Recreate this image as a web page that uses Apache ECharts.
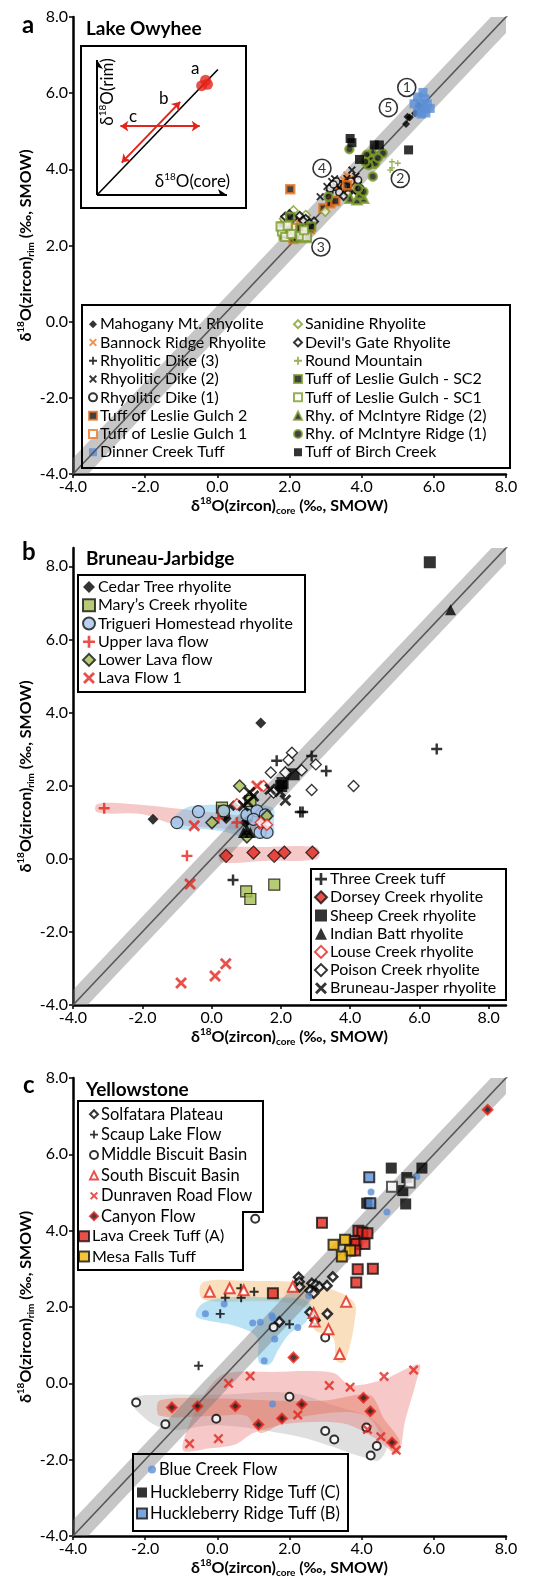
<!DOCTYPE html>
<html>
<head>
<meta charset="utf-8">
<script src="https://cdn.jsdelivr.net/npm/echarts@6/dist/echarts.min.js"></script>
<style>
  body { margin: 0; background: #fff; }
  #chart { width: 554px; height: 1580px; }
</style>
</head>
<body>
<div id="chart"></div>
<script>
// ---------- tick values ----------
const ticksAll = [-4, -2, 0, 2, 4, 6, 8];

// ---------- a: Lake Owyhee ----------
const mahoganyMt = [[5.23,5.19],[5.27,5.38],[5.48,5.47],[5.58,5.66],[5.33,5.36]];
const bannockRidge = [[3.59,3.85],[3.5,3.72],[3.68,3.68],[3.42,3.6],[3.64,3.55],[3.78,3.62],[3.55,3.45],[3.3,3.52],[3.72,3.78]];
const dike3 = [[3.35,3.7],[3.58,3.62],[3.88,3.38],[3.76,3.72],[3.2,3.45],[3.48,3.38]];
const dike2 = [[3.73,3.98],[2.85,3.28],[3.17,3.68],[3.31,3.59],[3.59,3.76],[3.91,3.59],[3.77,3.41],[3.04,3.55],[3.4,3.48],[3.84,3.82],[3.25,3.75],[3.5,3.62],[3.65,3.5],[3.1,3.38]];
const dike1 = [[3.13,3.5],[3.3,3.68],[3.52,3.55],[3.7,3.68],[3.96,3.5],[3.62,3.35],[3.9,3.72],[3.38,3.4],[3.22,3.6]];
const leslie2 = [[2.02,3.48],[2.94,2.98],[3.13,3.11],[3.27,3.17],[2.11,2.17],[2.57,2.43],[2.2,2.62],[1.9,2.66],[2.35,2.3],[3.6,3.58]];
const leslie1 = [[1.88,2.6],[2.11,2.6],[2.02,2.41],[2.25,2.36],[1.97,2.28],[2.33,2.52],[2.15,2.46]];
const dinnerCreek = [[5.7,6.02],[5.55,5.9],[5.75,5.85],[5.45,5.72],[5.62,5.7],[5.82,5.72],[5.7,5.6],[5.55,5.5],[5.78,5.48],[5.9,5.6],[5.65,5.45]];
const sanidine = [[2.11,2.92],[2.99,2.89],[1.85,2.7],[2.45,2.8]];
const devilsGate = [[1.88,2.76],[2.1,2.72],[2.28,2.78],[2.45,2.7],[2.68,2.63],[2.0,2.82],[2.38,2.65],[2.55,2.58],[3.5,3.3]];
const roundMountain = [[4.84,4.2],[5.0,4.16],[4.84,4.04],[4.79,3.98]];
const leslieSC2 = [[1.79,2.5],[2.48,2.2],[2.02,2.75],[2.3,2.45],[1.84,2.26],[2.2,2.2],[2.6,2.5],[1.95,2.4]];
const leslieSC1 = [[1.79,2.37],[1.88,2.22],[2.3,2.24],[2.48,2.22],[1.75,2.5],[1.95,2.52],[2.05,2.3],[2.4,2.4]];
const mcintyre2 = [[4.31,4.5],[4.24,4.16],[3.68,3.24],[4.05,3.24],[3.87,3.2],[4.2,4.35],[3.95,3.35]];
const mcintyre1 = [[3.66,4.53],[4.31,3.81],[4.59,4.42],[4.14,4.38],[4.28,4.24],[4.37,4.16],[4.19,4.11],[3.08,3.28],[4.05,3.41],[4.45,4.3],[4.1,4.2],[3.9,3.5]];
const birchCreek = [[3.68,4.81],[3.73,4.70],[3.94,4.26],[4.35,4.64],[4.49,4.64],[5.30,4.51]];
const groupTags = [['1',5.25,6.15],['5',4.74,5.62],['4',2.9,4.03],['2',5.07,3.76],['3',2.87,1.96]];

// inset sketch (arbitrary 0-10 units)
const insetAxisY = [[0,0],[0,10]];
const insetAxisX = [[0,0],[10,0]];
const insetDiag = [[0,0],[9.3,9.3]];
const insetArrowB = [[1.9,2.4],[6.4,6.9]];
const insetArrowC = [[1.8,5.1],[7.9,5.1]];
const insetBlob = [[8.35,8.5],[8.05,8.1],[8.5,8.2]];

// ---------- b: Bruneau-Jarbidge ----------
const cedarTree = [[1.42,3.71],[-1.69,1.08],[0.39,1.17],[0.42,1.1],[0.63,1.45],[0.97,0.99],[1.05,1.05]];
const marysCreek = [[0.3,1.4],[1.12,1.58],[1.81,-0.71],[1.0,-0.89],[1.12,-1.1],[0.35,1.3]];
const trigueri = [[-1.0,0.99],[-0.38,1.29],[1.02,1.2],[1.31,1.31],[1.55,1.2],[1.21,1.08],[1.4,0.72],[1.6,0.72],[0.35,1.31]];
const upperLava = [[-3.1,1.38],[0.2,1.11],[0.73,0.99],[-0.71,0.08]];
const lowerLava = [[0.81,1.99],[0.01,0.99],[1.02,0.6],[1.6,1.17]];
const lavaFlow1 = [[1.31,1.99],[-0.5,0.9],[-0.62,-0.69],[0.41,-2.87],[0.1,-3.21],[-0.88,-3.4],[1.5,0.95]];
const threeCreek = [[6.5,3.0],[2.89,2.81],[1.88,2.68],[3.31,2.4],[2.56,1.28],[2.63,1.28],[0.62,-0.58]];
const dorseyCreek = [[0.42,0.08],[1.21,0.17],[1.81,0.08],[2.1,0.17],[2.91,0.17]];
const sheepCreek = [[6.3,8.11],[2.37,2.31],[2.01,1.99],[2.05,2.07]];
const indianBatt = [[6.9,6.81],[0.92,0.72],[1.12,0.72],[1.02,0.8]];
const louseCreek = [[1.5,1.99],[0.73,1.49],[1.42,0.99],[1.6,0.93]];
const poisonCreek = [[2.32,2.9],[2.22,2.7],[3.01,2.58],[2.6,2.42],[2.13,2.36],[1.71,2.36],[2.89,1.88],[4.1,1.99],[1.79,1.81]];
const bruneauJasper = [[1.69,1.9],[1.1,1.81],[1.21,1.72],[2.13,1.6],[1.98,1.84],[0.92,1.45],[1.05,1.55]];
const fieldTrigueri = [[-1.15,1.0],[-0.9,1.3],[-0.5,1.45],[1.0,1.45],[1.75,1.4],[1.8,1.0],[1.75,0.6],[0.9,0.6],[0.3,0.75],[-0.5,0.82],[-1.0,0.82]];
const fieldUpper = [[-3.3,1.5],[-2,1.47],[-1.1,1.38],[0,1.27],[1.0,1.15],[1.65,1.05],[1.65,0.78],[1.0,0.78],[0,0.85],[-1.1,0.95],[-2,1.22],[-3.3,1.27]];
const fieldDorsey = [[0.25,0.28],[1.5,0.32],[3.0,0.32],[3.12,0.15],[3.0,-0.02],[1.5,-0.06],[0.3,-0.1],[0.2,0.1]];

// ---------- c: Yellowstone ----------
const solfatara = [[2.25,2.78],[2.27,2.66],[2.28,2.53],[2.62,2.62],[2.73,2.58],[2.83,2.53],[3.04,2.56],[3.2,2.79],[2.57,2.43],[2.67,2.36],[2.57,1.86],[3.05,1.82],[2.71,1.65],[1.72,1.61]];
const scaupLake = [[0.22,2.24],[0.65,2.49],[0.66,2.24],[1.02,2.40],[0.08,1.82],[2.0,1.55],[-0.52,0.46]];
const middleBiscuit = [[1.05,4.31],[-2.25,-0.5],[-1.44,-1.07],[-0.03,-0.93],[2.0,-0.35],[2.99,-1.25],[3.24,-1.47],[4.13,-1.16],[4.42,-1.64],[4.25,-1.89],[1.56,1.47],[2.99,1.20]];
const southBiscuit = [[-0.21,2.4],[0.34,2.49],[0.73,2.44],[2.09,2.53],[3.57,2.14],[2.67,1.84],[2.7,1.62],[3.08,1.42],[3.39,0.77]];
const dunraven = [[0.31,0.0],[0.91,0.19],[3.1,-0.06],[3.68,-0.1],[4.62,0.18],[5.44,0.35],[-0.77,-1.58],[0.03,-1.45],[2.23,-0.83],[4.16,-1.21],[4.53,-1.4],[4.96,-1.75]];
const canyonFlow = [[-1.26,-0.63],[-0.55,-0.6],[0.5,-0.6],[1.14,-1.08],[1.79,-0.92],[2.34,-0.55],[2.11,0.68],[4.05,-0.38],[4.24,-0.73],[4.84,-1.55],[7.49,7.17]];
const lavaCreekA = [[2.9,4.21],[3.91,4.0],[4.02,3.95],[4.16,3.93],[3.79,3.73],[3.85,3.65],[4.08,3.65],[3.82,3.48],[3.89,2.99],[4.31,3.0],[3.85,2.64],[1.54,2.36]];
const mesaFalls = [[3.22,3.63],[3.54,3.76],[3.68,3.48],[3.45,3.32]];
const blueCreek = [[4.26,5.01],[4.7,4.49],[5.53,5.42],[2.53,2.29],[0.19,2.08],[-0.33,1.82],[0.98,1.58],[1.19,1.60],[1.51,1.77],[1.54,1.71],[2.23,1.46],[1.59,1.16],[1.3,0.59],[1.53,-0.54]];
const hrtC = [[4.82,5.64],[5.67,5.64],[5.25,5.39],[4.14,4.72],[5.14,5.05],[5.22,4.70]];
const hrtB = [[4.21,5.40],[4.24,4.72]];
const hrtOpen = [[4.84,5.15],[5.33,5.26]];
const fieldSouth = [[-0.4,2.65],[1.0,2.68],[2.2,2.65],[3.2,2.45],[3.8,2.1],[3.8,1.6],[3.65,0.9],[3.5,0.55],[3.3,0.6],[3.2,1.2],[2.7,1.4],[2.55,1.9],[2.0,2.1],[1.0,2.15],[-0.4,2.2]];
const fieldBlue = [[-0.6,1.78],[-0.4,2.1],[0.3,2.25],[1.5,2.25],[2.4,2.2],[2.6,2.0],[2.45,1.6],[2.0,1.3],[1.7,0.9],[1.45,0.5],[1.15,0.55],[1.1,1.2],[0.5,1.5],[-0.3,1.65]];
const fieldDunraven = [[-0.95,-1.75],[-0.7,-0.9],[-0.3,-0.2],[0.2,0.25],[1.5,0.3],[3.2,0.28],[3.7,-0.05],[4.6,0.1],[5.6,0.5],[5.5,0.0],[5.2,-1.0],[5.0,-1.85],[4.4,-1.45],[3.5,-1.05],[2.0,-1.05],[1.0,-1.3],[0.5,-1.6],[-0.2,-1.7]];
const fieldCanyon = [[-1.6,-0.45],[0,-0.4],[1.5,-0.45],[3.0,-0.45],[3.9,-0.3],[4.3,-0.35],[4.6,-0.9],[5.05,-1.5],[4.95,-1.85],[4.7,-1.6],[4.2,-0.9],[3.5,-0.75],[2.0,-0.95],[1.2,-1.3],[0.8,-0.85],[0,-0.85],[-1.6,-0.85]];
const fieldMiddle = [[-2.35,-0.4],[-1.5,-0.3],[0,-0.3],[2.0,-0.25],[3.3,-0.6],[4.3,-0.95],[4.7,-1.5],[4.5,-2.0],[4.1,-1.95],[3.0,-1.6],[2.0,-1.35],[0,-1.1],[-1.4,-1.2],[-2.2,-0.75]];

// 1:1 line and its band
const oneToOne = [[-5,-5],[9,9]];
const BAND = 0.42;

const FONT = 'Lato, "DejaVu Sans", sans-serif';
const RED = '#e3241b', ORANGE = '#ee7623', GREEN = '#7d9d2b', BLUE = '#5b8fd6';
const PLUS = 'path://M-1.1,-5H1.1V-1.1H5V1.1H1.1V5H-1.1V1.1H-5V-1.1H-1.1Z';
const CROSS = 'path://M-4.2,-2.8L-2.8,-4.2L0,-1.4L2.8,-4.2L4.2,-2.8L1.4,0L4.2,2.8L2.8,4.2L0,1.4L-2.8,4.2L-4.2,2.8L-1.4,0Z';

const chart = echarts.init(document.getElementById('chart'));

function filled(c){ return { color: c, borderWidth: 0 }; }
function open(c, w){ return { color: '#fff', borderColor: c, borderWidth: w || 1.5 }; }
function dotted(c, w){ return { color: '#111', borderColor: c, borderWidth: w || 2.5 }; }
function boxed(c, w){ return { color: c, borderColor: '#111', borderWidth: w || 1.2 }; }

function sc(name, data, gi, symbol, size, itemStyle){
  return { name, type: 'scatter', xAxisIndex: gi, yAxisIndex: gi, data, symbol, symbolSize: size,
    itemStyle, z: 5, emphasis: { disabled: true }, silent: true };
}
function poly(gi, pts, fill, z, smooth){
  return { type: 'custom', xAxisIndex: gi, yAxisIndex: gi, clip: true, silent: true, z,
    data: [pts[0]],
    renderItem: (p, api) => ({ type: 'polygon', shape: { points: pts.map(q => api.coord(q)), smooth: smooth || 0 }, style: { fill } }) };
}
function bandSeries(gi){
  const pts = [[oneToOne[0][0]-BAND, oneToOne[0][1]], [oneToOne[1][0]-BAND, oneToOne[1][1]],
               [oneToOne[1][0]+BAND, oneToOne[1][1]], [oneToOne[0][0]+BAND, oneToOne[0][1]]];
  return [poly(gi, pts, 'rgba(120,120,120,0.42)', 3, 0),
    { type: 'line', xAxisIndex: gi, yAxisIndex: gi, data: oneToOne, showSymbol: false, silent: true, z: 4,
      lineStyle: { color: '#555', width: 1.6 } }];
}

const axisName = (sub) => '{b|δ}{sup|18}{b|O(zircon)}{sub|' + sub + '}{b| (‰, SMOW)}';
const nameStyle = {
  fontFamily: FONT, fontWeight: 'bold', fontSize: 16, color: '#000',
  rich: {
    b: { fontFamily: FONT, fontWeight: 'bold', fontSize: 16, lineHeight: 20 },
    sup: { fontFamily: FONT, fontWeight: 'bold', fontSize: 10, lineHeight: 12, verticalAlign: 'top' },
    sub: { fontFamily: FONT, fontWeight: 'bold', fontSize: 10, lineHeight: 12, verticalAlign: 'bottom' }
  }
};
function xAx(gi, max){
  return { gridIndex: gi, type: 'value', min: -4, max, name: axisName('core'), nameLocation: 'middle', nameGap: 22,
    nameTextStyle: nameStyle, nameMoveOverlap: false,
    axisLine: { onZero: false, lineStyle: { color: '#000', width: 2.5 } },
    axisTick: { customValues: ticksAll, length: 4, lineStyle: { color: '#000', width: 1.5 } },
    axisLabel: { customValues: ticksAll, formatter: v => v.toFixed(1), fontFamily: FONT, fontSize: 16, color: '#000', margin: 5 },
    splitLine: { show: false } };
}
function yAx(gi, max){
  return { gridIndex: gi, type: 'value', min: -4, max, name: axisName('rim'), nameLocation: 'middle', nameGap: 37,
    nameRotate: 90, nameTextStyle: nameStyle, nameMoveOverlap: false,
    axisLine: { onZero: false, lineStyle: { color: '#000', width: 2.5 } },
    axisTick: { customValues: ticksAll, length: 4, lineStyle: { color: '#000', width: 1.5 } },
    axisLabel: { customValues: ticksAll, formatter: v => v.toFixed(1), fontFamily: FONT, fontSize: 16, color: '#000', margin: 5 },
    splitLine: { show: false } };
}

function legendBlock(names, left, top, icon, pitch, fs){
  return { data: names, orient: 'vertical', left, top, itemWidth: icon, itemHeight: icon, itemGap: 0, padding: 0,
    selectedMode: false, textStyle: { fontFamily: FONT, fontSize: fs, lineHeight: pitch, color: '#000', padding: [0, 0, 0, -2] } };
}

const series = [
  // panel a
  ...bandSeries(0),
  sc('Mahogany Mt. Rhyolite', mahoganyMt, 0, 'diamond', 8, filled('#000')),
  sc('Bannock Ridge Rhyolite', bannockRidge, 0, CROSS, 8, filled(ORANGE)),
  sc('Rhyolitic Dike (3)', dike3, 0, PLUS, 7, filled('#000')),
  sc('Rhyolitic Dike (2)', dike2, 0, CROSS, 8, filled('#000')),
  sc('Rhyolitic Dike (1)', dike1, 0, 'circle', 7, open('#000', 1.6)),
  sc('Tuff of Leslie Gulch 2', leslie2, 0, 'rect', 8, dotted(ORANGE)),
  sc('Tuff of Leslie Gulch 1', leslie1, 0, 'rect', 8, open(ORANGE, 2)),
  sc('Dinner Creek Tuff', dinnerCreek, 0, 'rect', 9, filled(BLUE)),
  sc('Sanidine Rhyolite', sanidine, 0, 'diamond', 9, open(GREEN, 1.6)),
  sc("Devil's Gate Rhyolite", devilsGate, 0, 'diamond', 8, open('#000', 2)),
  sc('Round Mountain', roundMountain, 0, PLUS, 6, filled(GREEN)),
  sc('Tuff of Leslie Gulch - SC2', leslieSC2, 0, 'rect', 8, dotted(GREEN)),
  sc('Tuff of Leslie Gulch - SC1', leslieSC1, 0, 'rect', 8, open(GREEN, 2)),
  sc('Rhy. of McIntyre Ridge (2)', mcintyre2, 0, 'triangle', 9, dotted(GREEN)),
  sc('Rhy. of McIntyre Ridge (1)', mcintyre1, 0, 'circle', 8, dotted(GREEN)),
  sc('Tuff of Birch Creek', birchCreek, 0, 'rect', 9, filled('#000')),
  { type: 'scatter', xAxisIndex: 0, yAxisIndex: 0, z: 6, silent: true, symbol: 'circle', symbolSize: 18,
    itemStyle: { color: '#fff', borderColor: '#000', borderWidth: 1.6 },
    data: groupTags.map(t => ({ name: t[0], value: [t[1], t[2]] })),
    label: { show: true, position: 'inside', formatter: '{b}', fontFamily: FONT, fontSize: 14, color: '#000' } },

  // inset
  { type: 'lines', coordinateSystem: 'cartesian2d', xAxisIndex: 3, yAxisIndex: 3, silent: true, z: 7,
    symbol: ['none', 'arrow'], symbolSize: 9, lineStyle: { color: '#000', width: 2, opacity: 1 },
    data: [{ coords: insetAxisY }, { coords: insetAxisX }] },
  { type: 'lines', coordinateSystem: 'cartesian2d', xAxisIndex: 3, yAxisIndex: 3, silent: true, z: 7,
    symbol: ['none', 'none'], lineStyle: { color: '#000', width: 1.6, opacity: 1 },
    data: [{ coords: insetDiag }] },
  { type: 'lines', coordinateSystem: 'cartesian2d', xAxisIndex: 3, yAxisIndex: 3, silent: true, z: 7,
    symbol: ['arrow', 'arrow'], symbolSize: 8, lineStyle: { color: RED, width: 2, opacity: 1 },
    data: [{ coords: insetArrowB }, { coords: insetArrowC }] },
  { type: 'scatter', xAxisIndex: 3, yAxisIndex: 3, silent: true, z: 7, symbol: 'circle', symbolSize: 11,
    itemStyle: { color: RED }, data: insetBlob },

  // panel b
  poly(1, fieldUpper, 'rgba(232,120,120,0.4)', 1, 0.4),
  poly(1, fieldTrigueri, 'rgba(110,190,235,0.45)', 1, 0.4),
  poly(1, fieldDorsey, 'rgba(232,120,120,0.4)', 1, 0.4),
  ...bandSeries(1),
  sc('Cedar Tree rhyolite', cedarTree, 1, 'diamond', 11, filled('#000')),
  sc('Mary’s Creek rhyolite', marysCreek, 1, 'rect', 11, boxed('#a5bd51')),
  sc('Trigueri Homestead rhyolite', trigueri, 1, 'circle', 12, boxed('#a8c6ec')),
  sc('Upper lava flow', upperLava, 1, PLUS, 11, filled(RED)),
  sc('Lower Lava flow', lowerLava, 1, 'diamond', 12, boxed('#a5bd51', 1.5)),
  sc('Lava Flow 1', lavaFlow1, 1, CROSS, 12, filled(RED)),
  sc('Three Creek tuff', threeCreek, 1, PLUS, 11, filled('#000')),
  sc('Dorsey Creek rhyolite', dorseyCreek, 1, 'diamond', 13, boxed(RED)),
  sc('Sheep Creek rhyolite', sheepCreek, 1, 'rect', 12, filled('#000')),
  sc('Indian Batt rhyolite', indianBatt, 1, 'triangle', 11, filled('#000')),
  sc('Louse Creek rhyolite', louseCreek, 1, 'diamond', 11, open(RED, 1.5)),
  sc('Poison Creek rhyolite', poisonCreek, 1, 'diamond', 11, open('#000', 1.3)),
  sc('Bruneau-Jasper rhyolite', bruneauJasper, 1, CROSS, 12, filled('#000')),

  // panel c
  poly(2, fieldMiddle, 'rgba(150,150,150,0.3)', 1, 0.4),
  poly(2, fieldDunraven, 'rgba(232,110,110,0.38)', 1, 0.3),
  poly(2, fieldCanyon, 'rgba(228,110,80,0.4)', 1, 0.3),
  poly(2, fieldSouth, 'rgba(245,185,110,0.45)', 1, 0.35),
  poly(2, fieldBlue, 'rgba(100,190,230,0.45)', 1, 0.35),
  ...bandSeries(2),
  sc('Solfatara Plateau', solfatara, 2, 'diamond', 9, open('#000', 2.5)),
  sc('Scaup Lake Flow', scaupLake, 2, PLUS, 9, filled('#000')),
  sc('Middle Biscuit Basin', middleBiscuit, 2, 'circle', 8, open('#000', 2)),
  sc('South Biscuit Basin', southBiscuit, 2, 'triangle', 10, open(RED, 2)),
  sc('Dunraven Road Flow', dunraven, 2, CROSS, 10, filled(RED)),
  sc('Canyon Flow', canyonFlow, 2, 'diamond', 9, dotted(RED)),
  sc('Lava Creek Tuff (A)', lavaCreekA, 2, 'rect', 10, boxed(RED, 2)),
  sc('Mesa Falls Tuff', mesaFalls, 2, 'rect', 10, boxed('#f2b705', 2)),
  sc('Blue Creek Flow', blueCreek, 2, 'circle', 7, filled(BLUE)),
  sc('Huckleberry Ridge Tuff (C)', hrtC, 2, 'rect', 11, filled('#000')),
  sc('Huckleberry Ridge Tuff (B)', hrtB, 2, 'rect', 10, boxed(BLUE, 2)),
  sc('hrtOpen', hrtOpen, 2, 'rect', 10, open('#333', 2))
];

const box = (x, y, w, h) => ({ type: 'rect', shape: { x, y, width: w, height: h }, style: { fill: 'none', stroke: '#000', lineWidth: 2 }, z: 10 });
const txt = (x, y, text, size, weight) => ({ type: 'text', x, y, z: 10,
  style: { text, fontFamily: FONT, fontSize: size, fontWeight: weight || 'normal', fill: '#000', verticalAlign: 'middle', align: 'left' } });
const supRich = { sup: { fontFamily: FONT, fontSize: 10, verticalAlign: 'top', lineHeight: 10 },
                  n: { fontFamily: FONT, fontSize: 17, lineHeight: 20 } };

const option = {
  animation: false,
  backgroundColor: '#fff',
  grid: [
    { left: 73, top: 17, width: 433, height: 457 },
    { left: 73, top: 548, width: 433, height: 457 },
    { left: 73, top: 1078, width: 433, height: 458 },
    { left: 97, top: 60, width: 130, height: 135 }
  ],
  xAxis: [xAx(0, 8), xAx(1, 8.5), xAx(2, 8), { gridIndex: 3, type: 'value', min: 0, max: 10, show: false }],
  yAxis: [yAx(0, 8), yAx(1, 8.5), yAx(2, 8), { gridIndex: 3, type: 'value', min: 0, max: 10, show: false }],
  legend: [
    legendBlock(['Mahogany Mt. Rhyolite', 'Bannock Ridge Rhyolite', 'Rhyolitic Dike (3)', 'Rhyolitic Dike (2)',
      'Rhyolitic Dike (1)', 'Tuff of Leslie Gulch 2', 'Tuff of Leslie Gulch 1', 'Dinner Creek Tuff'], 88, 315, 8, 18.3, 16),
    legendBlock(['Sanidine Rhyolite', "Devil's Gate Rhyolite", 'Round Mountain', 'Tuff of Leslie Gulch - SC2',
      'Tuff of Leslie Gulch - SC1', 'Rhy. of McIntyre Ridge (2)', 'Rhy. of McIntyre Ridge (1)', 'Tuff of Birch Creek'], 293, 315, 8, 18.3, 16),
    legendBlock(['Cedar Tree rhyolite', 'Mary’s Creek rhyolite', 'Trigueri Homestead rhyolite', 'Upper lava flow',
      'Lower Lava flow', 'Lava Flow 1'], 82, 578, 12, 18.2, 16),
    legendBlock(['Three Creek tuff', 'Dorsey Creek rhyolite', 'Sheep Creek rhyolite', 'Indian Batt rhyolite',
      'Louse Creek rhyolite', 'Poison Creek rhyolite', 'Bruneau-Jasper rhyolite'], 314, 870, 12, 18.2, 16),
    legendBlock(['Solfatara Plateau', 'Scaup Lake Flow', 'Middle Biscuit Basin', 'South Biscuit Basin',
      'Dunraven Road Flow', 'Canyon Flow'], 89, 1104, 8, 20.4, 16.5),
    legendBlock(['Lava Creek Tuff (A)', 'Mesa Falls Tuff'], 78, 1226, 10, 20.4, 16),
    legendBlock(['Blue Creek Flow'], 148, 1459, 8, 21, 16.5),
    legendBlock(['Huckleberry Ridge Tuff (C)', 'Huckleberry Ridge Tuff (B)'], 136, 1482, 10, 21, 16.5)
  ],
  graphic: [
    txt(22, 25, 'a', 24, 'bold'),
    txt(86, 29, 'Lake Owyhee', 19, 'bold'),
    txt(22, 552, 'b', 24, 'bold'),
    txt(86, 559, 'Bruneau-Jarbidge', 19, 'bold'),
    txt(23, 1085, 'c', 24, 'bold'),
    txt(86, 1090, 'Yellowstone', 19, 'bold'),
    box(81, 46, 165, 162),
    box(82, 305, 428, 163),
    box(78, 575, 227, 117),
    box(311, 869, 195, 131),
    { type: 'polygon', z: 10, shape: { points: [[78,1101],[263,1101],[263,1212],[243,1212],[243,1270],[78,1270]] },
      style: { fill: 'none', stroke: '#000', lineWidth: 2 } },
    box(133, 1454, 215, 77),
    { type: 'text', x: 230, y: 182, z: 10, style: { text: '{n|δ}{sup|18}{n|O(core)}', rich: supRich, align: 'right', verticalAlign: 'middle', fill: '#000' } },
    { type: 'text', x: 108, y: 92, rotation: Math.PI / 2, z: 10, style: { text: '{n|δ}{sup|18}{n|O(rim)}', rich: supRich, align: 'center', verticalAlign: 'middle', fill: '#000' } },
    txt(191, 69, 'a', 17),
    txt(159, 99, 'b', 17),
    txt(129, 117, 'c', 17)
  ],
  series
};
chart.setOption(option);
</script>
</body>
</html>
